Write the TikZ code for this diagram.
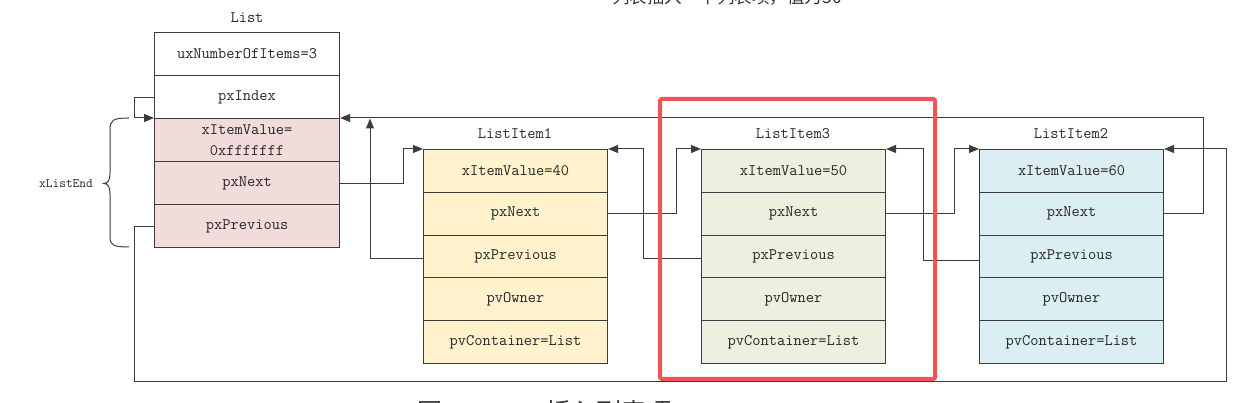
\documentclass[tikz,border=0pt]{standalone}
\usepackage{fontspec}
\newfontfamily\cjk{Noto Sans CJK SC}
\usetikzlibrary{arrows.meta}
\definecolor{pinkc}{RGB}{242,220,219}
\definecolor{yelc}{RGB}{255,242,204}
\definecolor{grnc}{RGB}{235,241,222}
\definecolor{bluc}{RGB}{218,238,243}
\definecolor{redc}{RGB}{240,84,84}
\definecolor{linec}{RGB}{60,60,60}
\begin{document}
\begin{tikzpicture}[x=1pt,y=-1pt,
  cell/.style={draw=linec, line width=1.1pt, minimum width=184pt, minimum height=42.8pt,
    inner sep=0pt, anchor=north west, text=black!85, align=center,
    font=\ttfamily\fontsize{16}{21}\selectfont},
  lcell/.style={cell, minimum width=185pt, minimum height=43pt},
  lbl/.style={text=black!85, inner sep=0pt, font=\ttfamily\fontsize{16}{20}\selectfont},
  conn/.style={draw=linec, line width=1pt},
  arr/.style={conn, -{Triangle[length=10pt,width=8pt]}}
]
\useasboundingbox (0,0) rectangle (1259,403);

% clipped texts at top and bottom (cut off by the page edge, as in the reference)
\node[anchor=base, inner sep=0pt, text=black!80, font=\cjk\fontsize{17.5}{20}\selectfont] (toptxt) at (727,3.5) {列表插入一个列表项，值为50};
\node[anchor=base west, inner sep=0pt, text=black!80, font=\cjk\fontsize{25}{28}\selectfont] (cap1) at (417,421) {图};
\node[anchor=base west, inner sep=0pt, text=black!80, font=\cjk\fontsize{25}{28}\selectfont] (cap2) at (546,421) {插入列表项};

% List
\node[lbl] (Llbl) at (247,18) {List};
\node[lcell] (Lcnt) at (154,32) {uxNumberOfItems=3};
\node[lcell] (Lidx) at (154,75) {pxIndex};
\node[lcell, fill=pinkc] (Lval) at (154,118) {xItemValue=\\0xfffffff};
\node[lcell, fill=pinkc] (Lnext) at (154,161) {pxNext};
\node[lcell, fill=pinkc] (Lprev) at (154,204) {pxPrevious};

% ListItem1
\node[lbl] (A) at (515,134) {ListItem1};
\node[cell, fill=yelc] (Av) at (423,149) {xItemValue=40};
\node[cell, fill=yelc] (An) at (423,191.8) {pxNext};
\node[cell, fill=yelc] (Ap) at (423,234.6) {pxPrevious};
\node[cell, fill=yelc] (Ao) at (423,277.4) {pvOwner};
\node[cell, fill=yelc] (Ac) at (423,320.2) {pvContainer=List};

% ListItem3
\node[lbl] (B) at (793,134) {ListItem3};
\node[cell, fill=grnc] (Bv) at (701,149) {xItemValue=50};
\node[cell, fill=grnc] (Bn) at (701,191.8) {pxNext};
\node[cell, fill=grnc] (Bp) at (701,234.6) {pxPrevious};
\node[cell, fill=grnc] (Bo) at (701,277.4) {pvOwner};
\node[cell, fill=grnc] (Bc) at (701,320.2) {pvContainer=List};

% ListItem2
\node[lbl] (C) at (1071,134) {ListItem2};
\node[cell, fill=bluc] (Cv) at (979,149) {xItemValue=60};
\node[cell, fill=bluc] (Cn) at (979,191.8) {pxNext};
\node[cell, fill=bluc] (Cp) at (979,234.6) {pxPrevious};
\node[cell, fill=bluc] (Co) at (979,277.4) {pvOwner};
\node[cell, fill=bluc] (Cc) at (979,320.2) {pvContainer=List};

% brace xListEnd
\draw[conn] (129,118) .. controls (113,118) and (110,120) .. (110,130) -- (110,173)
  .. controls (110,180) and (108,183.5) .. (104,183.5)
  .. controls (108,183.5) and (110,187) .. (110,194) -- (110,237)
  .. controls (110,245) and (113,247) .. (129,247);
\node[lbl, font=\ttfamily\fontsize{13}{16}\selectfont, anchor=east] (xle) at (93,183.5) {xListEnd};

% connectors
\draw[arr] (Lidx.west) -- ++(-20,0) |- (Lval.north west);
\draw[arr] (Lnext.east) -- ++(63,0) |- (Av.north west);
\coordinate (upTip) at (370,118.5);
\draw[arr] ([yshift=-2pt]Ap.west) -| (upTip);
\draw[arr] (An.east) -- ++(68,0) |- (Bv.north west);
\draw[arr] ([yshift=-2pt]Bp.west) -- ++(-58,0) |- (Av.north east);
\draw[arr] (Bn.east) -- ++(68,0) |- (Cv.north west);
\draw[arr] ([yshift=-4pt]Cp.west) -- ++(-56,0) |- (Bv.north east);
\draw[arr] (Cn.east) -- ++(39,0) |- (Lval.north east);
\coordinate (botL) at (134,382);
\coordinate (botR) at (1226,382);
\draw[arr] (Lprev.west) -| (botL) -- (botR) |- (Cv.north east);

% red highlight
\draw[draw=redc, line width=4pt, rounded corners=2pt] (660,99) rectangle (935,379);
\end{tikzpicture}
\end{document}
